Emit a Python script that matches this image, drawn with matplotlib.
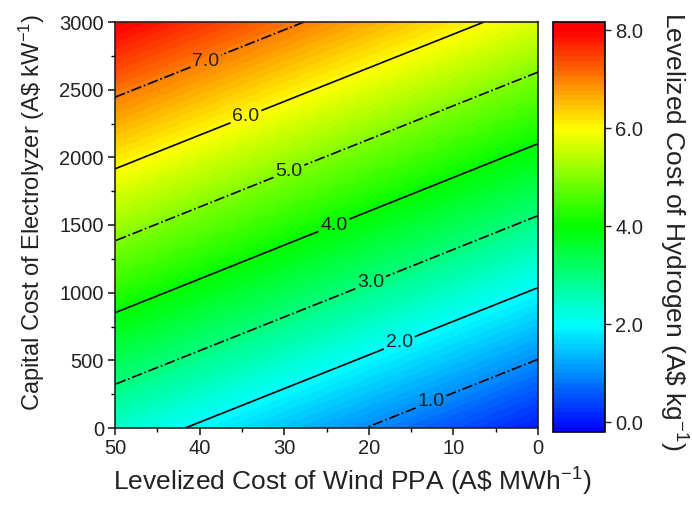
import numpy as np
import matplotlib.pyplot as plt
from matplotlib.colors import LinearSegmentedColormap
from matplotlib.ticker import MultipleLocator, FormatStrFormatter

plt.rcParams['font.family'] = ['Liberation Sans', 'DejaVu Sans']
plt.rcParams['mathtext.default'] = 'regular'

# values
wind_ppa = [0, 10, 20, 30, 40, 50]          # A$/MWh
capex = [0, 1000, 2000, 3000]               # A$/kW
lcoh = [
    [0.04, 0.51, 0.98, 1.45, 1.92, 2.39],
    [1.93, 2.40, 2.87, 3.34, 3.81, 4.28],
    [3.81, 4.28, 4.75, 5.22, 5.69, 6.16],
    [5.70, 6.17, 6.64, 7.11, 7.58, 8.05],
]
line_levels = [1, 2, 3, 4, 5, 6, 7]
cbar_ticks = [0, 2, 4, 6, 8]

text_color = '#222222'
cmap = LinearSegmentedColormap.from_list(
    'lcoh', [(0.0, '#0000ff'), (0.26, '#00ffff'), (0.50, '#00ff00'),
             (0.74, '#ffff00'), (0.98, '#ff0000'), (1.0, '#ff0000')])

fig = plt.figure(figsize=(6.92, 5.07), dpi=100)
ax = fig.add_axes([115 / 692, 79 / 507, 423 / 692, 406 / 507])
cax = fig.add_axes([553 / 692, 75 / 507, 52 / 692, 410 / 507])

X, Y = np.meshgrid(wind_ppa, capex)
Z = np.array(lcoh)

fill_levels = np.linspace(-0.2, 8.17, 85)
cf = ax.contourf(X, Y, Z, levels=fill_levels, cmap=cmap, vmin=-0.2, vmax=8.17)
styles = ['-.' if lv % 2 else '-' for lv in line_levels]
cs = ax.contour(X, Y, Z, levels=line_levels, colors='black',
                linewidths=1.2, linestyles=styles)
labels = ax.clabel(cs, fmt='%.1f', fontsize=14, colors=text_color, inline=True,
                   inline_spacing=3,
                   manual=[(39.4, 2735), (34.6, 2313), (29.5, 1906), (24, 1478),
                           (19.9, 1094), (16.3, 613), (12.5, 170)])
for t in labels:
    t.set_rotation(0)

ax.set_xlim(50, 0)
ax.set_ylim(0, 3000)
ax.xaxis.set_major_locator(MultipleLocator(10))
ax.xaxis.set_minor_locator(MultipleLocator(5))
ax.yaxis.set_major_locator(MultipleLocator(500))
ax.yaxis.set_minor_locator(MultipleLocator(250))
ax.tick_params(which='major', direction='out', length=5, width=1.2,
               labelsize=14.5, colors=text_color, pad=3)
ax.tick_params(which='minor', direction='out', length=3, width=1.0)
for sp in ax.spines.values():
    sp.set_linewidth(1.2)
    sp.set_color(text_color)

ax.set_xlabel(r'Levelized Cost of Wind PPA (A\$ MWh$^{-1}$)',
              fontsize=19, color=text_color)
ax.xaxis.set_label_coords(0.56, -0.094)
ax.set_ylabel(r'Capital Cost of Electrolyzer (A\$ kW$^{-1}$)',
              fontsize=17, color=text_color)
ax.yaxis.set_label_coords(-0.16, 0.53)

cb = fig.colorbar(cf, cax=cax, ticks=cbar_ticks)
cb.ax.yaxis.set_major_formatter(FormatStrFormatter('%.1f'))
cb.ax.tick_params(direction='out', length=4, width=1.0, labelsize=14.5,
                  colors=text_color)
cb.outline.set_linewidth(1.2)
cb.set_label(r'Levelized Cost of Hydrogen (A\$ kg$^{-1}$)', rotation=270,
             fontsize=19, color=text_color)
cb.ax.yaxis.set_label_coords(2.62, 0.49)

fig.savefig('out.png', dpi=100)
